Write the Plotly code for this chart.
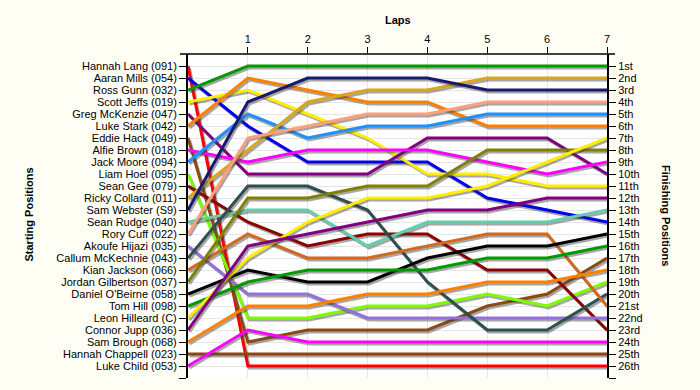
import plotly.graph_objects as go

drivers = ["Hannah Lang (091)", "Aaran Mills (054)", "Ross Gunn (032)", "Scott Jeffs (019)",
           "Greg McKenzie (047)", "Luke Stark (042)", "Eddie Hack (049)", "Alfie Brown (018)",
           "Jack Moore (094)", "Liam Hoel (095)", "Sean Gee (079)", "Ricky Collard (011)",
           "Sam Webster (S9)", "Sean Rudge (040)", "Rory Cuff (022)", "Akoufe Hijazi (035)",
           "Callum McKechnie (043)", "Kian Jackson (066)", "Jordan Gilbertson (037)",
           "Daniel O'Beirne (058)", "Tom Hill (098)", "Leon Hilleard (C)", "Connor Jupp (036)",
           "Sam Brough (068)", "Hannah Chappell (023)", "Luke Child (053)"]

colors = ["#FF0000", "#0000EE", "#009A00", "#FFEE00", "#800080", "#FF8000", "#8B4A13", "#FF00FF",
          "#1E90FF", "#7CFC00", "#8B0000", "#DAA520", "#191970", "#66CDAA", "#FFA07A", "#9370DB",
          "#2F4F4F", "#D2691E", "#808000", "#000000", "#009A00", "#FFEE00", "#800080", "#FF8000",
          "#8B4513", "#FF00FF"]

laps = [0, 1, 2, 3, 4, 5, 6, 7]

lap0 = list(range(1, 27))
lap1 = [26, 6, 1, 3, 10, 2, 24, 9, 5, 22, 14, 8, 4, 13, 7, 20, 11, 15, 12, 18, 19, 17, 16, 21, 25, 23]
lap2 = [26, 9, 1, 5, 10, 3, 23, 8, 7, 22, 16, 4, 2, 13, 6, 20, 11, 17, 12, 19, 18, 14, 15, 21, 25, 24]
lap3 = [26, 9, 1, 7, 10, 4, 23, 8, 6, 21, 15, 3, 2, 16, 5, 22, 13, 17, 11, 19, 18, 12, 14, 20, 25, 24]
lap4 = [26, 9, 1, 10, 7, 4, 23, 8, 6, 21, 15, 3, 2, 14, 5, 22, 19, 16, 11, 17, 18, 12, 13, 20, 25, 24]
lap5 = [26, 12, 1, 10, 7, 6, 21, 9, 5, 20, 18, 2, 3, 14, 4, 22, 23, 15, 8, 16, 17, 11, 13, 19, 25, 24]
lap6 = [26, 13, 1, 11, 7, 6, 20, 10, 5, 21, 18, 2, 3, 14, 4, 22, 23, 15, 8, 16, 17, 9, 12, 19, 25, 24]
lap7 = [26, 14, 1, 11, 10, 6, 17, 9, 5, 19, 23, 2, 3, 13, 4, 22, 20, 21, 8, 15, 16, 7, 12, 18, 25, 24]

finish_labels = ["1st", "2nd", "3rd"] + [f"{i}th" for i in range(4, 21)] + \
                ["21st", "22nd", "23rd", "24th", "25th", "26th"]

all_laps = [lap0, lap1, lap2, lap3, lap4, lap5, lap6, lap7]

FONT = "Liberation Sans, Arial, sans-serif"
fig = go.Figure()

# shadow offsets (in axis units: ~1.5px right, ~2px down)
dx = 1.5 / 59.86
dy = 2.0 / 12.0

for i, name in enumerate(drivers):
    ys = [lap[i] for lap in all_laps]
    fig.add_trace(go.Scatter(
        x=[l + dx for l in laps], y=[v + dy for v in ys], mode="lines",
        line=dict(color="rgba(60,60,60,0.45)", width=3), hoverinfo="skip", showlegend=False))
    fig.add_trace(go.Scatter(
        x=laps, y=ys, mode="lines", name=name,
        line=dict(color=colors[i], width=3), showlegend=False))

# invisible trace for right axis
fig.add_trace(go.Scatter(x=[0], y=[1], yaxis="y2", mode="markers",
                         marker=dict(opacity=0), hoverinfo="skip", showlegend=False))

fig.update_layout(
    width=700, height=390,
    margin=dict(l=188, r=93, t=54, b=12),
    paper_bgcolor="#FFFEF4",
    plot_bgcolor="#FFFFFF",
    font=dict(family=FONT, size=11, color="#000000"),
    xaxis=dict(
        side="top", range=[0, 7], tickvals=[1, 2, 3, 4, 5, 6, 7],
        showgrid=True, gridcolor="#E6E6E6", gridwidth=1, zeroline=False,
        ticks="outside", ticklen=6, tickcolor="#000", tickwidth=1,
        showline=False, tickfont=dict(size=11, family=FONT, color="#000"),
    ),
    yaxis=dict(
        range=[27, 0], tickvals=list(range(1, 28)), ticktext=drivers + [""],
        showgrid=True, gridcolor="#E6E6E6", gridwidth=1, zeroline=False,
        ticks="outside", ticklen=7, tickcolor="#000", tickwidth=1,
        showline=True, linecolor="#000", linewidth=2,
        tickfont=dict(size=11, family=FONT, color="#000"),
    ),
    yaxis2=dict(
        overlaying="y", side="right", range=[27, 0], tickvals=list(range(1, 28)),
        ticktext=finish_labels + [""], showgrid=False, zeroline=False,
        ticks="outside", ticklen=7, tickcolor="#000", tickwidth=1,
        showline=True, linecolor="#000", linewidth=2,
        tickfont=dict(size=11, family=FONT, color="#000"),
    ),
    shapes=[dict(type="line", xref="paper", yref="paper", x0=-8 / 419, x1=1 + 8 / 419,
                 y0=1, y1=1, line=dict(color="#000", width=1.5))],
    annotations=[
        dict(text="<b>Laps</b>", xref="paper", yref="paper", x=0.5, y=(378 - 20) / 324,
             showarrow=False, font=dict(size=11, family=FONT), xanchor="center", yanchor="middle"),
        dict(text="<b>Starting Positions</b>", xref="paper", yref="paper", x=(28.5 - 188) / 419,
             y=(378 - 215) / 324, showarrow=False, textangle=-90,
             font=dict(size=11, family=FONT), xanchor="center", yanchor="middle"),
        dict(text="<b>Finishing Positions</b>", xref="paper", yref="paper", x=(666 - 188) / 419,
             y=(378 - 215) / 324, showarrow=False, textangle=90,
             font=dict(size=11, family=FONT), xanchor="center", yanchor="middle"),
    ],
)

fig.write_html("out.html")
